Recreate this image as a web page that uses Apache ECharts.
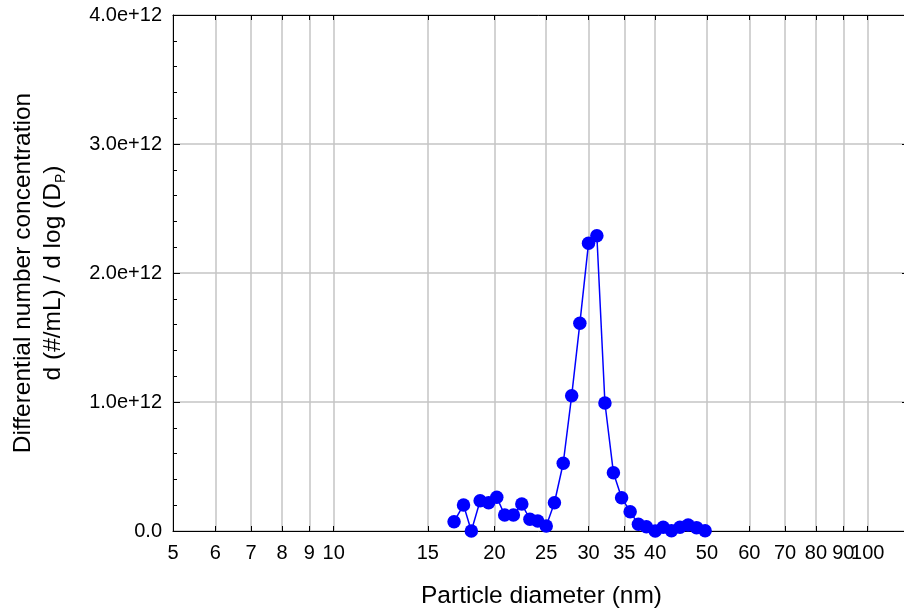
<!DOCTYPE html>
<html>
<head>
<meta charset="utf-8">
<script src="https://cdn.jsdelivr.net/npm/echarts@6/dist/echarts.min.js"></script>
<style>html,body{margin:0;padding:0;background:#fff}#c{width:904px;height:613px}</style>
</head>
<body>
<div id="c"></div>
<script>
// Particle diameters (nm), SMPS channel midpoints
const diameters = [16.8, 17.5, 18.1, 18.8, 19.5, 20.2, 20.9, 21.7, 22.5, 23.3, 24.1, 25.0, 25.9, 26.9, 27.9, 28.9, 30.0, 31.1, 32.2, 33.4, 34.6, 35.9, 37.2, 38.5, 40.0, 41.4, 42.9, 44.5, 46.1, 47.8, 49.6];
// dN/dlogDp (#/mL)
const concentrations = [0.072e12, 0.202e12, 0.0, 0.235e12, 0.219e12, 0.261e12, 0.124e12, 0.124e12, 0.209e12, 0.091e12, 0.078e12, 0.039e12, 0.219e12, 0.525e12, 1.049e12, 1.610e12, 2.230e12, 2.289e12, 0.992e12, 0.452e12, 0.258e12, 0.150e12, 0.052e12, 0.033e12, 0.0, 0.029e12, 0.002e12, 0.029e12, 0.047e12, 0.026e12, 0.002e12];
// x tick labels (nm)
const xTicks = [5, 6, 7, 8, 9, 10, 15, 20, 25, 30, 35, 40, 50, 60, 70, 80, 90, 100];
const xMin = 5, xMax = 120;
const yMin = 0, yMax = 4e12, yStep = 1e12;

const FONT = 'Liberation Sans, Arial, sans-serif';
const lg = v => Math.log10(v);
const xTickVals = xTicks.map(lg);
// last label is drawn by a separate overlay axis so that it may touch its neighbour
const xLabelValsMain = xTickVals.slice(0, -1);
const xLabelValsLast = xTickVals.slice(-1);
const seriesData = diameters.map((d, i) => [lg(d), concentrations[i]]);

const chart = echarts.init(document.getElementById('c'));
const xBase = {
  type: 'value', min: lg(xMin), max: lg(xMax),
  axisLine: {show: true, onZero: false, lineStyle: {color: '#000', width: 1}},
};
const xLabelStyle = {margin: 12, fontFamily: FONT, fontSize: 20, color: '#000',
  formatter: v => String(Math.round(Math.pow(10, v)))};
chart.setOption({
  animation: false,
  backgroundColor: '#fff',
  grid: {left: 173, top: 15, bottom: 82, right: -6, containLabel: false, outerBoundsMode: 'none'},
  xAxis: [
    Object.assign({}, xBase, {
      position: 'bottom',
      name: 'Particle diameter (nm)', nameLocation: 'middle', nameGap: 53,
      nameTextStyle: {fontFamily: FONT, fontSize: 24.5, color: '#000'},
      axisTick: {show: true, inside: true, length: 5, customValues: xTickVals, lineStyle: {color: '#000'}},
      axisLabel: Object.assign({show: true, customValues: xLabelValsMain}, xLabelStyle),
      splitLine: {show: true, lineStyle: {color: '#c4c4c4', width: 1.5}}
    }),
    Object.assign({}, xBase, {
      position: 'top',
      axisTick: {show: true, inside: true, length: 5, customValues: xTickVals, lineStyle: {color: '#000'}},
      axisLabel: {show: false, customValues: xTickVals},
      splitLine: {show: false}
    }),
    Object.assign({}, xBase, {
      position: 'bottom',
      axisLine: {show: false},
      axisTick: {show: false},
      axisLabel: Object.assign({show: true, customValues: xLabelValsLast}, xLabelStyle),
      splitLine: {show: false}
    })
  ],
  yAxis: [
    {
      type: 'value', min: yMin, max: yMax, interval: yStep, position: 'left',
      name: 'Differential number concentration\nd (#/mL) / d log (D{sub|P})',
      nameLocation: 'middle', nameRotate: 90, nameGap: 105,
      nameTextStyle: {fontFamily: FONT, fontSize: 24.5, color: '#000', lineHeight: 30, align: 'center',
        rich: {sub: {fontFamily: FONT, fontSize: 14, color: '#000', lineHeight: 30, verticalAlign: 'bottom'}}},
      axisLine: {show: true, lineStyle: {color: '#000', width: 1}},
      axisTick: {show: true, inside: true, length: 7, lineStyle: {color: '#000'}},
      minorTick: {show: true, splitNumber: 5, length: 4, lineStyle: {color: '#000'}},
      axisLabel: {margin: 11, fontFamily: FONT, fontSize: 20, color: '#000',
        formatter: v => v === 0 ? '0.0' : (v / 1e12).toFixed(1) + 'e+12'},
      splitLine: {show: true, lineStyle: {color: '#c4c4c4', width: 1.5}}
    },
    {
      type: 'value', min: yMin, max: yMax, interval: yStep, position: 'right',
      axisLine: {show: true, lineStyle: {color: '#000', width: 1}},
      axisTick: {show: true, inside: true, length: 8, lineStyle: {color: '#000'}},
      minorTick: {show: false},
      axisLabel: {show: false},
      splitLine: {show: false}
    }
  ],
  series: [{
    type: 'line', xAxisIndex: 0, yAxisIndex: 0,
    data: seriesData,
    symbol: 'circle', symbolSize: 13.5,
    lineStyle: {color: '#0000ff', width: 1.5},
    itemStyle: {color: '#0000ff'},
    z: 5
  }]
});
</script>
</body>
</html>
